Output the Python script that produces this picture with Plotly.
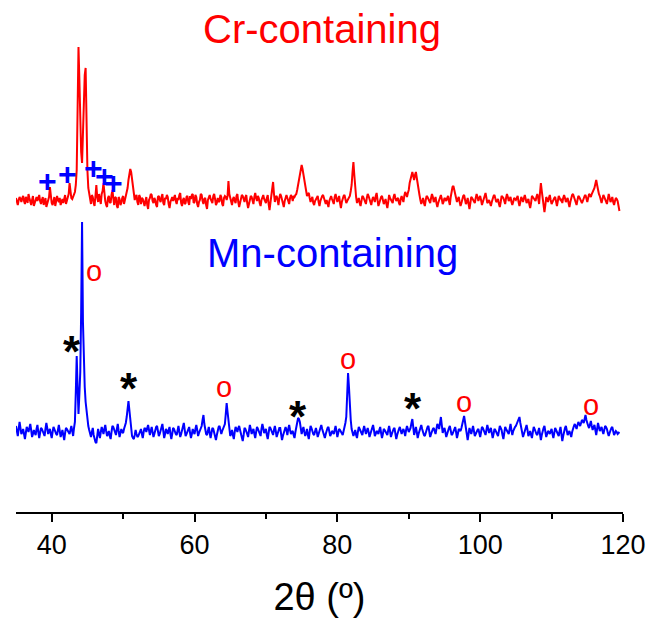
import plotly.graph_objects as go

# 2-theta sampling: readings every 0.25 deg, plus in-between readings at +0.125 deg
two_theta_main = [35 + 0.25 * i for i in range(339)]
two_theta_mid = [35.125 + 0.25 * i for i in range(338)]

# Cr-containing pattern (a.u., relative to its own baseline) at two_theta_main
cr_main = [
    2, -5, 3, -2, 4, -4, 1, 6, -3, 0, -6, 2, -1, 5, -4, 3, -2, -7, 1, 13,
    -3, 0, -6, 4, -2, -5, 1, 3, -4, 5, 17, 2, 4, 8, 30, 153, 70, 37, 100, 132,
    30, 5, -4, 3, -6, 15, -2, 2, 6, 17, -1, -7, 4, -3, 10, -5, 2, -8, 1, -3,
    4, 0, 6, 20, 31, 22, 10, 3, -2, 5, -4, 1, -6, 3, -9, 2, 5, -3, 0, -7,
    4, -2, 6, -5, 1, 3, -8, 2, -1, 5, -4, 0, 7, -6, 2, -3, 4, -5, 1, 6,
    -2, 3, -7, 0, 5, -4, 2, -9, 4, 1, -3, 6, -5, 2, -1, 3, -6, 4, 0, 19,
    2, -5, 3, -3, 6, -7, 1, 4, -2, 5, -8, 0, 3, -4, 7, -1, 2, -6, 4, 1,
    -3, 5, -10, 3, 18, -2, 4, -5, 6, 0, -7, 3, 2, -4, 5, -1, 3, 6, 15, 28,
    35, 25, 12, 4, 7, -2, 3, -5, 1, 4, -6, 2, 5, -3, 0, -7, 3, 1, -4, 6,
    -2, 4, -8, 2, 5, -3, 1, 4, 15, 38, 10, -3, 2, -6, 4, 0, -4, 6, 1, -5,
    3, -2, 7, -6, 2, 4, -4, 1, -8, 5, 0, -3, 6, -1, 2, -5, 4, -2, 8, 3,
    10, 22, 28, 20, 28, 15, 5, -4, 2, -6, 4, 1, -3, 6, -2, 3, -7, 0, 5, -4,
    2, -1, 4, -5, 10, 14, 6, -2, 3, -6, 1, 5, -4, 2, -9, 3, 0, -3, 6, -1,
    4, -5, 2, 7, -3, 0, -6, 3, 5, -2, 1, -7, 4, 2, -4, 6, -1, 3, -5, 2,
    0, 4, -6, 3, -2, 5, -3, 1, -8, 4, 2, -1, 6, -4, 17, 2, -12, 3, -2, 5,
    -4, 1, 3, -6, 4, 0, -3, 5, -2, 2, -7, 3, 6, -1, -5, 4, 1, -3, 2, 5,
    -2, 6, 3, 8, 12, 20, 9, 4, -3, 5, 1, -4, 6, -2, 3, -5, 2, -1, -11,
]
# Cr-containing pattern at two_theta_mid
cr_mid = [
    -2, 0, 1, 2, -1, 3, -3, 2, -5, 4, -2, 3, 4, -1, 0, -5, 2, -3, 3, 4,
    -5, 3, -1, 0, 2, -2, -3, 5, 0, 6, 5, 1, 7, 15, 90, 120, 48, 65, 125, 70,
    12, -2, 5, -3, 4, 3, 6, -4, 9, 4, -5, 2, -2, 5, 2, 3, -6, 3, -5, 2,
    -4, 4, 12, 27, 28, 15, 0, 5, -5, 3, 2, -3, -1, -5, 0, 6, -1, 2, -5, 3,
    0, 3, -3, 2, 5, -4, -2, 3, 4, -1, 2, 5, -3, 0, -4, 3, -2, 4, 5, -3,
    5, -4, -2, 6, -1, 1, -5, 0, 5, -2, 4, 1, -3, -2, 5, -4, 2, 3, 4, 6,
    -3, 1, -1, 4, -2, -3, 5, 0, 3, -3, -4, 4, -2, 3, 2, 4, -3, 0, 5, -2,
    2, -4, -3, 8, 6, 3, 0, 2, 4, -5, -1, 5, -2, 2, 3, 4, 5, 10, 22, 33,
    31, 18, 7, 6, 2, 1, -3, -1, 3, -2, -1, 4, 1, -4, -5, -1, 4, -2, 3, 2,
    1, -3, -2, 4, 1, -1, 3, 9, 28, 25, 3, -1, -3, -1, 3, -3, 2, 4, -3, 0,
    1, 4, 0, -3, 3, 0, -2, -4, -2, 2, -2, 3, 2, 1, -3, 1, 1, 4, 6, 7,
    17, 26, 24, 25, 22, 9, 0, -1, -3, 0, 3, -2, 2, 3, 0, -3, -3, 3, 1, -2,
    1, 2, -1, 3, 13, 10, 2, 1, -2, -3, 4, 0, -2, -4, -3, 2, -2, 2, 3, 2,
    0, -2, 5, 2, -2, -3, -2, 4, 2, -1, -4, -2, 3, -1, 2, 3, 1, -2, -2, 1,
    2, -2, -2, 1, 2, 1, -1, -4, -3, 3, 1, 3, 2, 7, 9, -6, -5, 1, 2, 0,
    -2, 2, -2, -1, 2, 1, 2, 2, 0, -3, -2, 5, 3, -3, 0, 3, -1, -1, 4, 1,
    2, 5, 6, 10, 16, 15, 6, 0, 1, 3, -2, 1, 2, 0, -2, -1, 1, -6,
]

# Mn-containing pattern (a.u., relative to its own baseline) at two_theta_main
mn_main = [
    6, -4, 10, -2, 3, -7, 5, 0, 8, -5, 2, -3, 7, -6, 4, 1, -4, 9, -2, 3,
    -6, 5, 0, -3, 7, -5, 2, -8, 4, 1, -2, 6, -4, 10, 76, 18, 60, 210, 60, 30,
    12, 2, -5, 4, -8, -11, 3, -6, 5, -2, 7, -4, 1, -7, 6, 2, -3, 8, -5, 3,
    -1, 6, 15, 31, 12, -4, -7, 2, -5, -2, 3, -6, 4, 0, 7, -3, 5, -5, 2, 6,
    -4, 1, 8, -6, 3, -2, 5, -7, 4, 0, -3, 6, -5, 2, 9, -4, 1, 5, -6, 3,
    -2, 7, -4, 2, 6, 17, 1, -3, 5, -6, 4, 0, -8, 3, 6, -2, 4, 8, 29, 10,
    -4, 2, -7, 5, 0, 6, -3, -9, 4, 1, -5, 7, -2, 3, -6, 5, 0, -4, 8, -1,
    3, -7, 5, 1, -3, 6, -5, 2, 4, -8, 0, 5, -3, 7, -2, 1, -6, 4, 14, 10,
    -2, 5, -4, 3, -7, 6, 0, -3, 4, -5, 2, 7, -1, -6, 3, 5, -4, 1, -2, 6,
    -5, 3, 0, -3, 4, 15, 59, 25, 3, -4, 2, -6, 5, 1, -3, 6, -2, 4, -5, 2,
    7, -4, 1, -2, 5, -6, 3, 0, -3, 6, -5, 2, 4, -7, 1, 5, -2, 3, -4, 6,
    0, 4, 13, -3, 5, -6, 2, 7, -1, -4, 3, 6, -5, 1, 4, -2, 8, 3, 15, -1,
    4, -5, 2, 6, -3, 0, 5, -6, 3, 1, 7, 16, 2, -8, 4, -2, 6, -4, 1, 3,
    -5, 5, 2, -3, 7, -1, 4, -6, 3, 0, -4, 6, 2, -7, 5, 1, -2, 8, -3, 4,
    6, 10, 15, 3, -5, 2, 7, -4, 1, -6, 5, 0, -3, 4, -8, 2, 6, -5, 1, -2,
    3, -6, 4, 0, -4, 5, -9, 2, 6, -3, 1, -5, 4, 8, 3, 10, 6, 12, 9, 17,
    8, 4, 11, 2, 7, -3, 9, 1, 5, -2, 6, 3, -4, 2, 5, -3, 1, -2, 0,
]
# Mn-containing pattern at two_theta_mid
mn_mid = [
    1, 3, 4, 0, -2, -1, 3, 4, 2, -2, -1, 3, 0, -1, 3, -2, 3, 4, 1, -2,
    0, 3, -2, 2, 1, -2, -3, -1, 3, -1, 2, 1, 4, 40, 45, 38, 120, 110, 45, 20,
    6, -2, 0, -3, -10, -4, -2, 0, 2, 3, 1, -2, -4, 0, 5, -1, 3, 1, -1, 0,
    3, 9, 25, 22, 3, -6, -3, -2, -4, 1, -2, 0, 3, 4, 2, 1, 0, -2, 5, 1,
    -2, 5, 1, -2, 1, 2, -2, -2, 3, -2, 2, 0, -2, 6, 2, -2, 4, -1, -2, 0,
    3, 2, -1, 5, 12, 8, -2, 2, -1, -1, 3, -5, -3, 5, 2, 1, 6, 18, 20, 2,
    -2, -3, 0, 3, 4, 2, -7, -3, 3, -2, 2, 3, 1, -2, 0, 3, -3, 3, 4, 1,
    -3, -1, 4, -2, 2, 1, -2, 4, -3, -4, 3, 2, 3, 2, 0, -3, 0, 9, 13, 4,
    2, 0, -1, -3, 0, 4, -2, 1, 0, -2, 5, 3, -4, -2, 4, 1, -2, 0, 2, 1,
    -1, 2, -2, 1, 9, 38, 45, 12, 0, -1, -3, 0, 3, -1, 2, 2, 1, 0, -2, 5,
    2, -2, 0, 2, -1, -2, 2, -2, 2, 1, -2, 3, -2, -3, 3, 2, 1, 0, 2, 3,
    2, 9, 5, 1, 0, -2, 5, 3, -3, 0, 5, 1, -2, 3, 1, 3, 6, 9, 7, 2,
    0, -2, 4, 2, -2, 3, 0, -2, 2, 4, 12, 9, -3, -2, 1, 2, 1, -2, 2, -1,
    0, 4, -1, 2, 3, 2, -1, -2, 2, -2, 1, 4, -3, -1, 3, -1, 3, 2, 1, 5,
    8, 13, 9, -1, -2, 5, 2, -2, -3, 0, 3, -2, 1, -2, -3, 4, 1, -2, 0, 1,
    -2, -1, 2, -2, 1, -2, -4, 4, 2, -1, -2, 0, 6, 5, 7, 8, 9, 11, 13, 12,
    6, 8, 6, 5, 2, 3, 5, 3, 1, 2, 5, -1, -1, 4, 1, -1, 0, -1,
]

# vertical offsets of the stacked patterns
cr_offset = 312
mn_offset = 80

# phase markers (2theta, stacked intensity)
plus_x = [39.48, 42.28, 45.92, 47.46, 48.59]
plus_y = [331, 338, 344, 336, 329]
star_x = [42.84, 50.83, 74.50, 90.60]
star_y = [167, 130, 102, 110]
circ_x = [45.92, 64.13, 81.50, 97.74, 115.53]
circ_y = [238, 122, 150, 107, 104]

labels = ["Cr-containing", "Mn-containing"]
label_x = [77.9, 79.3]
label_y = [483, 259]

tick_vals = [40, 60, 80, 100, 120]
minor_vals = [50, 70, 90, 110]

FONT = "Liberation Sans, Arial, sans-serif"


def merge(xa, ya, xb, yb):
    pts = sorted(list(zip(xa, ya)) + list(zip(xb, yb)))
    return [p[0] for p in pts], [p[1] for p in pts]


x_cr, y_cr = merge(two_theta_main, cr_main, two_theta_mid, cr_mid)
x_mn, y_mn = merge(two_theta_main, mn_main, two_theta_mid, mn_mid)

fig = go.Figure()
fig.add_trace(go.Scatter(
    x=x_cr, y=[v + cr_offset for v in y_cr], mode="lines",
    line=dict(color="#FF0000", width=2), showlegend=False))
fig.add_trace(go.Scatter(
    x=x_mn, y=[v + mn_offset for v in y_mn], mode="lines",
    line=dict(color="#0000FF", width=2), showlegend=False))

ann = []
for x, y in zip(plus_x, plus_y):
    ann.append(dict(x=x, y=y, text="<b>+</b>", showarrow=False,
                    font=dict(family=FONT, size=32, color="#0000FF")))
for x, y in zip(star_x, star_y):
    ann.append(dict(x=x, y=y, text="<b>*</b>", showarrow=False, yshift=-6,
                    font=dict(family=FONT, size=44, color="black")))
for x, y in zip(circ_x, circ_y):
    ann.append(dict(x=x, y=y, text="o", showarrow=False, yshift=3,
                    font=dict(family=FONT, size=29, color="#FF0000")))
colors = ["#FF0000", "#0000FF"]
for t, x, y, c in zip(labels, label_x, label_y, colors):
    ann.append(dict(x=x, y=y, text=t, showarrow=False,
                    font=dict(family=FONT, size=40, color=c)))

fig.update_layout(
    width=650, height=623,
    margin=dict(l=16, r=27, t=0, b=111),
    plot_bgcolor="white", paper_bgcolor="white",
    annotations=ann,
    xaxis=dict(
        range=[35, 120], tickvals=tick_vals, ticks="outside", ticklen=8,
        tickwidth=1.5, tickcolor="black", showline=True, linecolor="black",
        linewidth=1.5, showgrid=False, zeroline=False,
        tickfont=dict(family=FONT, size=27, color="black"),
        minor=dict(tickvals=minor_vals, ticks="outside", ticklen=5,
                   tickwidth=1.5, tickcolor="black", showgrid=False),
        title=dict(text="2θ (º)", font=dict(family=FONT, size=38, color="black"),
                   standoff=24),
    ),
    yaxis=dict(range=[0, 512], visible=False),
)

fig.write_html("out.html")
